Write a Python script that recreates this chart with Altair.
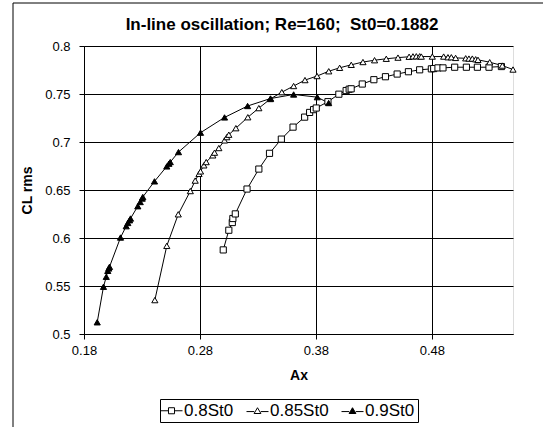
import altair as alt
import pandas as pd

series_names = ["0.8St0", "0.85St0", "0.9St0"]

# 0.8St0 (open squares)
ax_08 = [0.3001, 0.3049, 0.3079, 0.3084, 0.3105, 0.3206, 0.3308, 0.3400, 0.3502, 0.3603,
         0.3703, 0.3746, 0.3780, 0.3803, 0.3904, 0.3998, 0.4061, 0.4087, 0.4104, 0.4200,
         0.4300, 0.4400, 0.4501, 0.4598, 0.4695, 0.4796, 0.4816, 0.4853, 0.4896, 0.4997,
         0.5098, 0.5193, 0.5293, 0.5400]
cl_08 = [0.5876, 0.6081, 0.6161, 0.6203, 0.6251, 0.6510, 0.6718, 0.6882, 0.7030, 0.7155,
         0.7259, 0.7308, 0.7337, 0.7354, 0.7420, 0.7498, 0.7536, 0.7550, 0.7554, 0.7604,
         0.7649, 0.7680, 0.7708, 0.7732, 0.7752, 0.7762, 0.7765, 0.7772, 0.7772, 0.7779,
         0.7779, 0.7779, 0.7779, 0.7786]

# 0.85St0 (open triangles)
ax_085 = [0.2411, 0.2514, 0.2613, 0.2717, 0.2759, 0.2792, 0.2805, 0.2834, 0.2854, 0.2911,
          0.2926, 0.2963, 0.3012, 0.3032, 0.3049, 0.3110, 0.3213, 0.3308, 0.3407, 0.3506,
          0.3608, 0.3706, 0.3810, 0.3911, 0.4005, 0.4105, 0.4206, 0.4306, 0.4407, 0.4508,
          0.4604, 0.4637, 0.4666, 0.4695, 0.4709, 0.4804, 0.4902, 0.4939, 0.4968, 0.5005,
          0.5092, 0.5120, 0.5149, 0.5178, 0.5198, 0.5299, 0.5408, 0.5500]
cl_085 = [0.5353, 0.5918, 0.6247, 0.6489, 0.6598, 0.6668, 0.6694, 0.6757, 0.6791, 0.6861,
          0.6889, 0.6937, 0.7017, 0.7051, 0.7076, 0.7144, 0.7258, 0.7353, 0.7448, 0.7519,
          0.7583, 0.7645, 0.7687, 0.7737, 0.7773, 0.7804, 0.7833, 0.7852, 0.7867, 0.7879,
          0.7888, 0.7892, 0.7893, 0.7893, 0.7890, 0.7890, 0.7890, 0.7883, 0.7883, 0.7876,
          0.7872, 0.7869, 0.7869, 0.7862, 0.7856, 0.7831, 0.7796, 0.7755]

# 0.9St0 (filled triangles)
ax_09 = [0.1914, 0.1968, 0.1992, 0.2005, 0.2014, 0.2020, 0.2115, 0.2164, 0.2178, 0.2193,
         0.2201, 0.2264, 0.2285, 0.2302, 0.2307, 0.2408, 0.2514, 0.2532, 0.2544, 0.2615,
         0.2805, 0.3012, 0.3211, 0.3409, 0.3608, 0.3812, 0.3910]
cl_09 = [0.5122, 0.5492, 0.5596, 0.5658, 0.5683, 0.5700, 0.6005, 0.6123, 0.6157, 0.6185,
         0.6203, 0.6331, 0.6375, 0.6411, 0.6427, 0.6590, 0.6746, 0.6774, 0.6791, 0.6895,
         0.7097, 0.7256, 0.7375, 0.7453, 0.7495, 0.7467, 0.7406]

x_ticks = [0.18, 0.28, 0.38, 0.48]
y_ticks = [0.5, 0.55, 0.6, 0.65, 0.7, 0.75, 0.8]
chart_title = "In-line oscillation; Re=160;\u00a0 St0=0.1882"

rows = []
for name, xs, ys in zip(series_names, [ax_08, ax_085, ax_09], [cl_08, cl_085, cl_09]):
    for i, (a, b) in enumerate(zip(xs, ys)):
        rows.append({"series": name, "Ax": a, "CL": b, "idx": i})
df = pd.DataFrame(rows)

FONT = "Liberation Sans"

xscale = alt.Scale(domain=[0.18, 0.55], nice=False, zero=False)
yscale = alt.Scale(domain=[0.5, 0.8], nice=False, zero=False)

x_enc = alt.X("Ax:Q", scale=xscale,
              axis=alt.Axis(values=x_ticks, format=".2f", title="Ax",
                            titleFont=FONT, titleFontSize=14, titleFontWeight="bold",
                            titleColor="black", titlePadding=11,
                            labelFont=FONT, labelFontSize=13, labelColor="black",
                            labelPadding=5, tickSize=5, tickColor="black",
                            domainColor="black", gridColor="black", gridOpacity=1,
                            labelFlush=False))
y_enc = alt.Y("CL:Q", scale=yscale,
              axis=alt.Axis(values=y_ticks, format=".2~f", title="CL rms",
                            titleFont=FONT, titleFontSize=14, titleFontWeight="bold",
                            titleColor="black", titlePadding=10,
                            labelFont=FONT, labelFontSize=13, labelColor="black",
                            labelPadding=9, tickSize=5, tickColor="black",
                            domainColor="black", gridColor="black", gridOpacity=1,
                            labelFlush=False))

base = alt.Chart(df)

lines = base.mark_line(color="black", strokeWidth=1, clip=False).encode(
    x=x_enc, y=y_enc, detail="series:N", order="idx:Q")

points = base.mark_point(filled=True, stroke="black", strokeWidth=1, size=38,
                         opacity=1, clip=False).encode(
    x=x_enc, y=y_enc,
    shape=alt.Shape("series:N",
                    scale=alt.Scale(domain=series_names,
                                    range=["square", "triangle-up", "triangle-up"]),
                    legend=None),
    fill=alt.Fill("series:N",
                  scale=alt.Scale(domain=series_names, range=["white", "white", "black"]),
                  legend=None))

sq_path = "M-2,0H-0.55M0.55,0H2M-0.55,-0.55H0.55V0.55H-0.55Z"
tri_path = "M-2,0.15H-0.6M0.6,0.15H2M0,-0.55L0.62,0.5L-0.62,0.5Z"

legend_props = dict(orient="none", legendX=76, legendY=353, direction="horizontal",
                    title=None, labelFont=FONT, labelFontSize=17, labelColor="black",
                    strokeColor="black", fillColor="white", padding=3,
                    columnPadding=10, symbolStrokeWidth=1, symbolSize=121,
                    labelOffset=4)

leg_df = pd.DataFrame({"series": series_names})
legend_layer = alt.Chart(leg_df).mark_point(filled=True, stroke="black", strokeWidth=1,
                                            size=121, opacity=1).encode(
    x=alt.value(-300), y=alt.value(-300),
    shape=alt.Shape("series:N",
                    scale=alt.Scale(domain=series_names,
                                    range=[sq_path, tri_path, tri_path]),
                    legend=alt.Legend(**legend_props)),
    fill=alt.Fill("series:N",
                  scale=alt.Scale(domain=series_names, range=["white", "white", "black"]),
                  legend=alt.Legend(**legend_props)))

one = pd.DataFrame({"t": [chart_title]})
title_layer = alt.Chart(one).mark_text(font=FONT, fontSize=17, fontWeight="bold",
                                       color="black", align="center",
                                       baseline="alphabetic").encode(
    x=alt.value(198), y=alt.value(-16), text="t:N")

frame_v = alt.Chart(one).mark_rule(color="black", strokeWidth=1).encode(
    x=alt.value(-71), y=alt.value(-43), y2=alt.value(420))
frame_h = alt.Chart(one).mark_rule(color="black", strokeWidth=1).encode(
    x=alt.value(-71), x2=alt.value(480), y=alt.value(-43))

chart = alt.layer(frame_v, frame_h, lines, points, legend_layer, title_layer).resolve_scale(
    shape="independent", fill="independent"
).properties(
    width=429, height=288,
    autosize=alt.AutoSizeParams(type="none"),
    padding={"left": 84, "top": 46, "right": 30, "bottom": 93},
).configure_view(stroke="#808080", strokeWidth=1).configure(background="white")

chart.save("out.html", embed_options={"renderer": "svg", "actions": False})
